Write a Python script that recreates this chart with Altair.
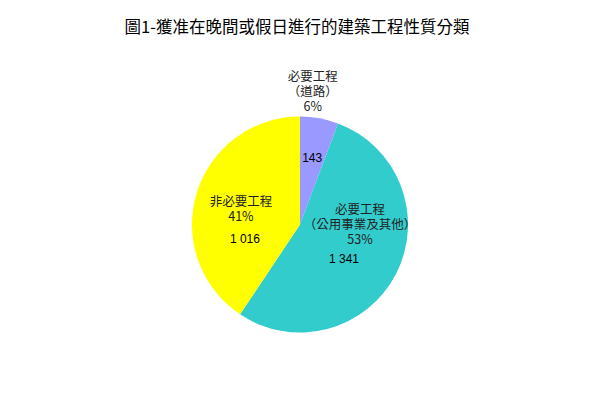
import altair as alt
import pandas as pd

title_text = "圖1-獲准在晚間或假日進行的建築工程性質分類"
categories = ["必要工程（道路）", "必要工程（公用事業及其他）", "非必要工程"]
cat_labels = ["必要工程\n（道路）\n6%", "必要工程\n（公用事業及其他）\n53%", "非必要工程\n41%"]
values = [143, 1341, 1016]
colors = ["#9999FF", "#33CCCC", "#FFFF00"]

df = pd.DataFrame({
    "idx": list(range(len(values))),
    "category": categories,
    "value": values,
    "cat_label": cat_labels,
    "num_label": [f"{v:,}".replace(",", " ") for v in values],
})
total = sum(values)

base = alt.Chart(df)

pie = base.mark_arc(radius=108, stroke=None).encode(
    theta=alt.Theta("value:Q", stack=True, scale=alt.Scale(domain=[0, total])),
    color=alt.Color("category:N", scale=alt.Scale(domain=categories, range=colors), legend=None),
    order=alt.Order("idx:Q"),
)

mid_base = base.transform_window(
    cum="sum(value)", sort=[alt.SortField("idx")], frame=[None, 0]
).transform_calculate(mid="datum.cum - datum.value / 2")

# (radius, dx, dy) per slice
num_pos = [(68, 0, 0), (68, -16.5, 3.5), (68, 10, 34)]
cat_pos = [(133, -11, -17), (68, -0.5, -45.5), (68, 6, -2.8)]

layers = [pie]
for i in range(len(values)):
    r, dx, dy = num_pos[i]
    layers.append(
        mid_base.transform_filter(alt.datum.idx == i).mark_text(
            radius=r, dx=dx, dy=dy, font="Liberation Sans", fontSize=12,
            color="#000000", align="center", baseline="middle",
        ).encode(
            theta=alt.Theta("mid:Q"),
            text=alt.Text("num_label:N"),
        )
    )
    r, dx, dy = cat_pos[i]
    layers.append(
        mid_base.transform_filter(alt.datum.idx == i).mark_text(
            radius=r, dx=dx, dy=dy, font="Noto Sans CJK TC", fontSize=12.5,
            color="#222222", align="center", baseline="middle",
            lineBreak="\n", lineHeight=15,
        ).encode(
            theta=alt.Theta("mid:Q"),
            text=alt.Text("cat_label:N"),
        )
    )

chart = alt.layer(*layers).properties(
    width=584,
    height=353,
    padding={"left": 0, "top": 40, "right": 0, "bottom": 0},
    autosize=alt.AutoSizeParams(type="none"),
    title=alt.TitleParams(
        text=title_text, font="Noto Sans CJK TC", fontSize=16.5, fontWeight="normal",
        color="#000000", anchor="middle", offset=12, dx=-3,
    ),
).configure_view(stroke=None).configure(background="white")

chart.save("out.html", embed_options={"renderer": "svg", "actions": False})
